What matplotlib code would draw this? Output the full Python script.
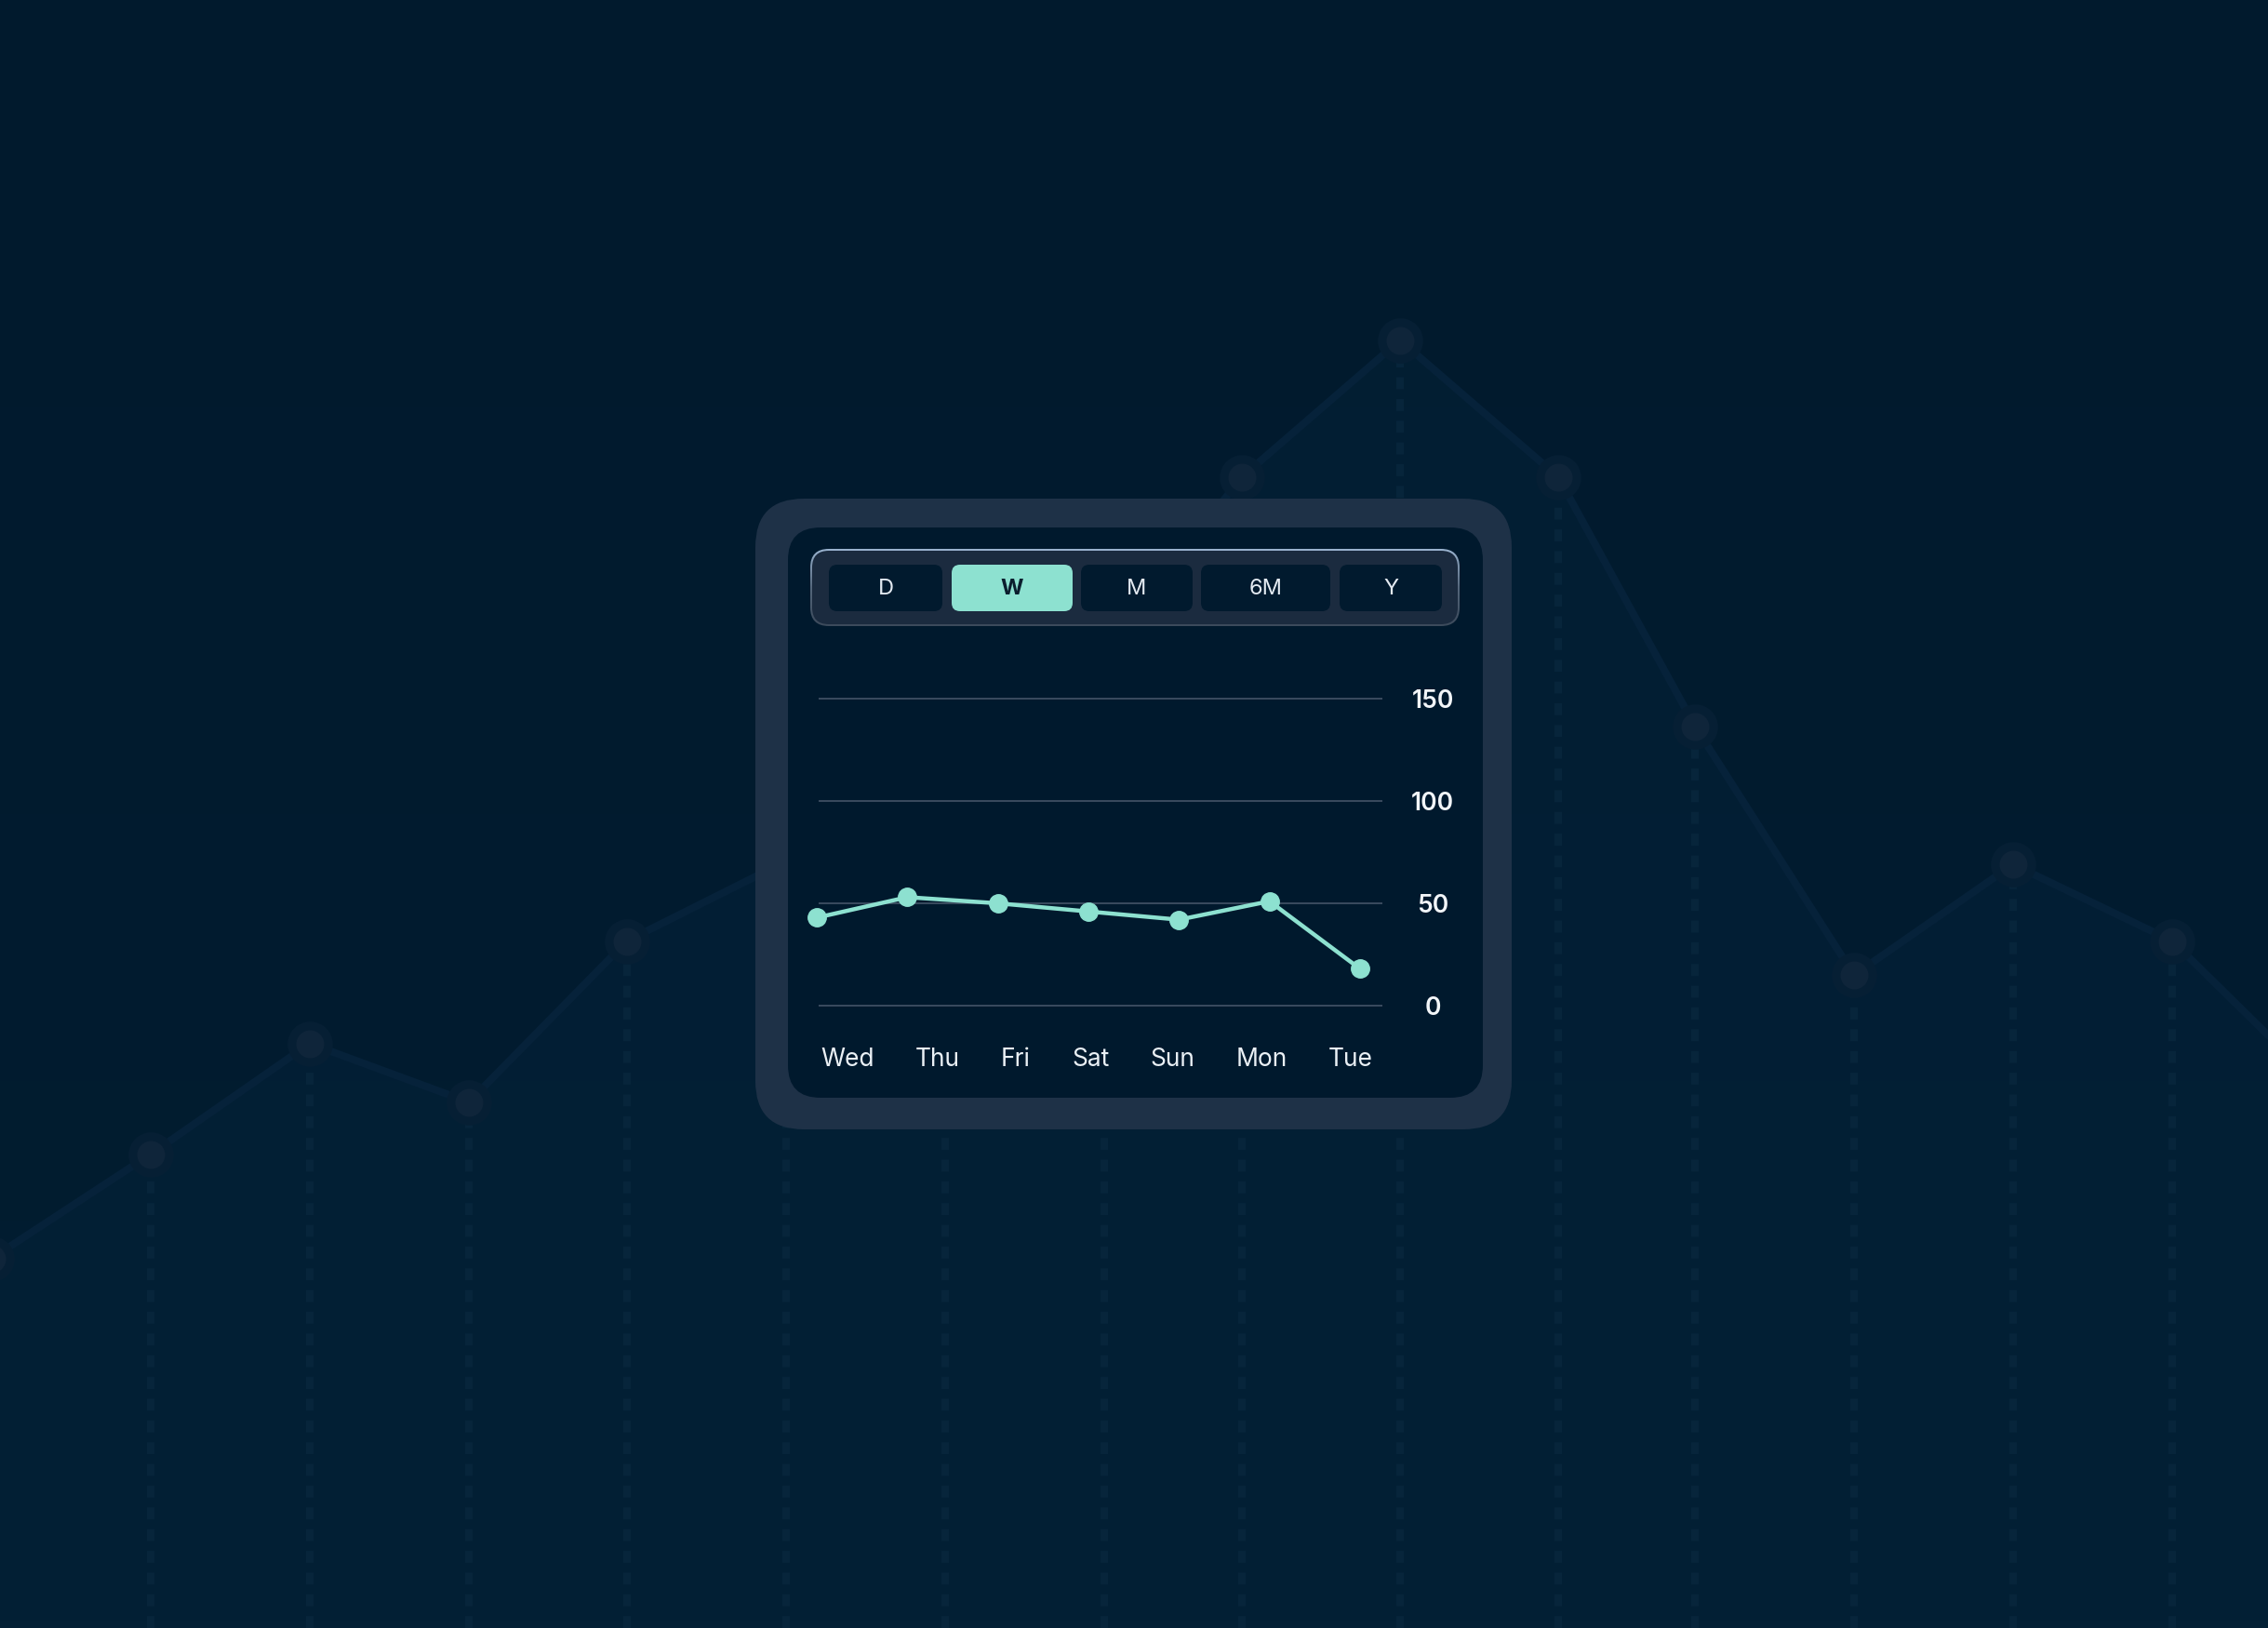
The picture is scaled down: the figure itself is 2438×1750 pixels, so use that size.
import matplotlib
matplotlib.use("Agg")
import matplotlib.pyplot as plt
from matplotlib.patches import FancyBboxPatch
from matplotlib.colors import LinearSegmentedColormap
import numpy as np

plt.rcParams['font.family'] = ['Inter', 'DejaVu Sans']

W, H = 2438, 1750

# --- faint trend line in the background ---
bg_x = [-9, 162, 333, 504, 674, 845, 1016, 1187, 1335, 1505, 1675, 1822, 1993, 2164, 2335, 2506]
bg_vals = [22.7, 29.1, 35.9, 32.3, 42.2, 47.1, 53.1, 60.0, 70.7, 79.1, 70.7, 55.4, 40.1, 46.9, 42.2, 32.6]

# --- weekly card data ---
days = ["Wed", "Thu", "Fri", "Sat", "Sun", "Mon", "Tue"]
week_vals = [43, 53, 50, 46, 42, 51, 18]
y_ticks = [0, 50, 100, 150]

periods = ["D", "W", "M", "6M", "Y"]
selected = "W"
btn_spans = [(891, 1013), (1023, 1153), (1162, 1282), (1291, 1430), (1440, 1550)]

TEAL = '#8de1d0'
CARD_EDGE = '#1e3147'
PANEL = '#00192d'

fig = plt.figure(figsize=(W / 100, H / 100), dpi=100)
fig.patch.set_facecolor('#011a2d')

# background chart
ax_bg = fig.add_axes([0, 0, 1, 1])
ax_bg.set_xlim(0, W)
ax_bg.set_ylim(0, 100)
ax_bg.axis('off')
grad_cmap = LinearSegmentedColormap.from_list('bg', ['#021d31', '#011a2d'])
ax_bg.imshow(np.linspace(0, 1, 256)[:, None], cmap=grad_cmap, aspect='auto',
             extent=(0, W, 0, 100), origin='lower', zorder=0)
ax_bg.fill_between(bg_x, bg_vals, 0, color='#072840', alpha=0.3, lw=0, zorder=1)
ax_bg.vlines(bg_x, 0, bg_vals, colors='#07253b', linewidths=5.8,
             linestyles=[(0, (1.6, 1.3))], zorder=2)
ax_bg.plot(bg_x, bg_vals, color='#06223a', lw=5.8, zorder=3, solid_capstyle='round')
ax_bg.scatter(bg_x, bg_vals, s=35 ** 2, color='#061f34', zorder=4, lw=0)
ax_bg.scatter(bg_x, bg_vals, s=21.6 ** 2, color='#0f253a', zorder=5, lw=0)

# UI layer in pixel coordinates (y down)
ax_ui = fig.add_axes([0, 0, 1, 1])
ax_ui.set_xlim(0, W)
ax_ui.set_ylim(H, 0)
ax_ui.axis('off')
ax_ui.patch.set_alpha(0)


def rbox(x0, y0, x1, y1, r, **kw):
    p = FancyBboxPatch((x0, y0), x1 - x0, y1 - y0,
                       boxstyle=f"round,pad=0,rounding_size={r}", lw=0, **kw)
    ax_ui.add_patch(p)
    return p


rbox(812, 536, 1625, 1214, 52, facecolor=CARD_EDGE, zorder=1)
rbox(847, 567, 1594, 1180, 35, facecolor=PANEL, zorder=2)

# segmented control with a gradient border
border = rbox(871, 590, 1569, 673, 20, facecolor='none', zorder=3)
edge_cmap = LinearSegmentedColormap.from_list('edge', ['#9ab3cf', '#55677c', '#3c4a5b'])
im = ax_ui.imshow(np.linspace(0, 1, 100)[:, None], cmap=edge_cmap, aspect='auto',
                  extent=(871, 1569, 673, 590), origin='upper', zorder=3)
im.set_clip_path(border)
rbox(873, 592, 1567, 671, 18, facecolor='#1b2b3f', zorder=4)

for label, (x0, x1) in zip(periods, btn_spans):
    on = label == selected
    rbox(x0, 607, x1, 657, 9, facecolor=TEAL if on else '#011a2e', zorder=5)
    ax_ui.text((x0 + x1) / 2, 633, label, ha='center', va='center', fontsize=17,
               color='#0b1e2e' if on else '#e4ebf2',
               fontweight='bold' if on else 'normal', zorder=6)

# weekly line chart
px_per_unit = 330 / 150
pad_u = 5
ax = fig.add_axes([880 / W, (H - 1081 - pad_u * px_per_unit) / H,
                   606 / W, (330 + 2 * pad_u * px_per_unit) / H])
ax.patch.set_alpha(0)
for s in ax.spines.values():
    s.set_visible(False)
ax.set_xlim(0.02, 6.247)
ax.set_ylim(-pad_u, 150 + pad_u)
ax.set_yticks(y_ticks)
ax.set_xticks([])
ax.yaxis.grid(True, color='#3a4b5f', lw=1.4)
ax.set_axisbelow(True)
ax.tick_params(axis='y', length=0, left=False, right=False, labelleft=False,
               labelright=True, pad=38.9, labelsize=19, labelcolor='#f2f5f8')
for lbl in ax.get_yticklabels():
    lbl.set_ha('center')
    lbl.set_fontweight('semibold')
ax.plot(range(len(days)), week_vals, color=TEAL, lw=3.2, marker='o', ms=14,
        clip_on=False, zorder=3)

# day labels laid out edge to edge (space-between)
day_texts = [fig.text(0, (H - 1146) / H, d, ha='left', va='baseline', fontsize=19,
                      color='#eaf0f5') for d in days]
fig.canvas.draw()
renderer = fig.canvas.get_renderer()
widths = [t.get_window_extent(renderer).width for t in day_texts]
left, right = 882, 1476
gap = (right - left - sum(widths)) / (len(days) - 1)
x = left
for t, w in zip(day_texts, widths):
    t.set_x(x / W)
    x += w + gap

fig.savefig('out.png', dpi=100, facecolor=fig.get_facecolor())
